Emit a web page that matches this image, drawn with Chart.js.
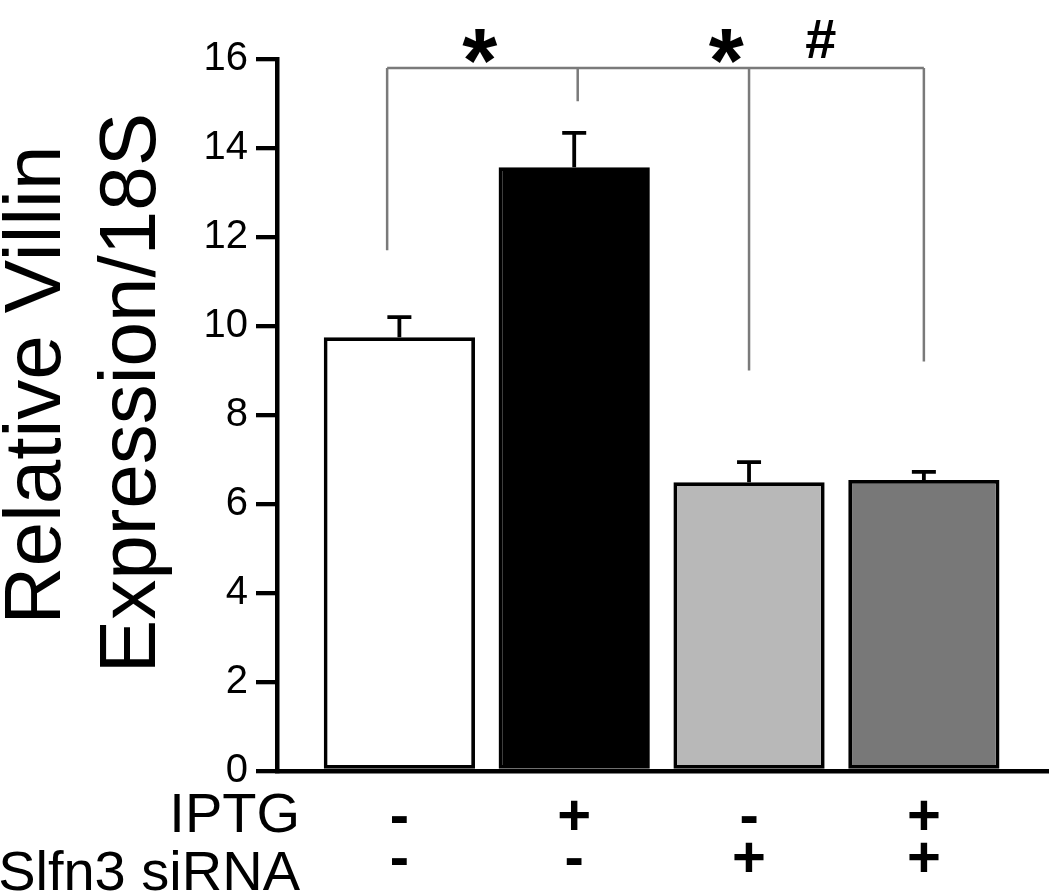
<!DOCTYPE html>
<html>
<head>
<meta charset="utf-8">
<script src="https://cdn.jsdelivr.net/npm/chart.js@4"></script>
<style>
  body { margin: 0; background: #fff; }
</style>
</head>
<body>
<canvas id="villin" width="1050" height="894" style="display:block;width:1050px;height:894px"></canvas>
<script>
  // data
  const groups = ['Control', 'IPTG', 'Slfn3 siRNA', 'IPTG + Slfn3 siRNA'];
  const iptgRow = ['-', '+', '-', '+'];
  const sirnaRow = ['-', '-', '+', '+'];
  const villinMean = [9.75, 13.57, 6.49, 6.54];
  const villinErr = [0.45, 0.77, 0.45, 0.18];
  const barColors = ['#ffffff', '#000000', '#b8b8b8', '#787878'];
  const yTitle = ['Relative Villin', 'Expression/18S'];
  const rowTitles = ['IPTG', 'Slfn3 siRNA'];

  // significance bracket (in data units)
  const bracketLevel = 15.8;
  const bracketDrops = [{ x: 0.93, to: 11.7 }, { x: 2.02, to: 15.05 }, { x: 3, to: 9.0 }, { x: 4, to: 9.2 }];
  const sigMarks = [{ text: '*', x: 1.46, y: 16.3 }, { text: '*', x: 2.87, y: 16.3 }, { text: '#', x: 3.41, y: 16.45 }];

  const FONT = "'Liberation Sans', Arial, sans-serif";

  const errorBars = {
    id: 'errorBars',
    afterDatasetsDraw(chart) {
      const { ctx, scales: { y } } = chart;
      ctx.save();
      ctx.strokeStyle = '#000';
      ctx.lineWidth = 3.8;
      chart.getDatasetMeta(0).data.forEach((bar, i) => {
        const top = y.getPixelForValue(villinMean[i] + villinErr[i]);
        ctx.beginPath();
        ctx.moveTo(bar.x, bar.y);
        ctx.lineTo(bar.x, top);
        ctx.moveTo(bar.x - 12, top);
        ctx.lineTo(bar.x + 12, top);
        ctx.stroke();
      });
      ctx.restore();
    }
  };

  const brackets = {
    id: 'brackets',
    afterDraw(chart) {
      const { ctx, scales: { x, y } } = chart;
      const yl = y.getPixelForValue(bracketLevel);
      ctx.save();
      ctx.strokeStyle = '#7a7a7a';
      ctx.lineWidth = 2.5;
      ctx.beginPath();
      ctx.moveTo(x.getPixelForValue(bracketDrops[0].x), yl);
      ctx.lineTo(x.getPixelForValue(bracketDrops[bracketDrops.length - 1].x), yl);
      bracketDrops.forEach(d => {
        const px = x.getPixelForValue(d.x);
        ctx.moveTo(px, yl);
        ctx.lineTo(px, y.getPixelForValue(d.to));
      });
      ctx.stroke();

      ctx.fillStyle = '#000';
      ctx.textAlign = 'center';
      ctx.textBaseline = 'alphabetic';
      sigMarks.forEach(m => {
        ctx.font = m.text === '*' ? `bold 90px ${FONT}` : `bold 56px ${FONT}`;
        const mt = ctx.measureText(m.text);
        const mid = (mt.actualBoundingBoxAscent - mt.actualBoundingBoxDescent) / 2;
        ctx.fillText(m.text, x.getPixelForValue(m.x), y.getPixelForValue(m.y) + mid);
      });
      ctx.restore();
    }
  };

  const textLabels = {
    id: 'textLabels',
    afterDraw(chart) {
      const { ctx } = chart;
      ctx.save();
      ctx.fillStyle = '#000';
      // rotated two-line y title
      ctx.font = `80px ${FONT}`;
      ctx.textAlign = 'center';
      ctx.textBaseline = 'alphabetic';
      [[60, 385], [155, 393]].forEach(([bx, cy], i) => {
        ctx.save();
        ctx.translate(bx, cy);
        ctx.rotate(-Math.PI / 2);
        ctx.fillText(yTitle[i], 0, 0);
        ctx.restore();
      });
      // row titles under the axis
      ctx.font = `56px ${FONT}`;
      ctx.textAlign = 'right';
      ctx.fillText(rowTitles[0], 300, 832);
      ctx.fillText(rowTitles[1], 300, 890);
      ctx.restore();
    }
  };

  new Chart(document.getElementById('villin'), {
    type: 'bar',
    data: {
      datasets: [{
        label: 'Relative Villin Expression/18S',
        data: villinMean.map((v, i) => ({ x: i + 1, y: v })),
        backgroundColor: barColors,
        borderColor: '#000',
        borderWidth: 3.8,
        borderSkipped: false,
        categoryPercentage: 1,
        barPercentage: 0.865
      }]
    },
    options: {
      responsive: false,
      animation: false,
      devicePixelRatio: 1,
      layout: { padding: { left: 0, right: 2, top: 59, bottom: 0 } },
      plugins: { legend: { display: false }, tooltip: { enabled: false } },
      scales: {
        x: {
          type: 'linear',
          offset: false,
          min: 0.3,
          max: 4.71,
          afterBuildTicks: s => { s.ticks = groups.map((g, i) => ({ value: i + 1 })); },
          afterFit: s => { s.height = 894 - 771; },
          grid: { display: false, drawTicks: false, offset: false },
          border: { display: true, color: '#000', width: 4.5 },
          ticks: {
            color: '#000',
            padding: 27,
            maxRotation: 0,
            autoSkip: false,
            font: { family: FONT, size: 58, weight: 'bold', lineHeight: 0.724 },
            callback: (value, index) => [iptgRow[index], sirnaRow[index]]
          }
        },
        y: {
          min: 0,
          max: 16,
          afterFit: s => { s.width = 277; },
          grid: { drawOnChartArea: false, drawTicks: true, tickLength: 21, color: '#000', lineWidth: 4.3 },
          border: { display: true, color: '#000', width: 4.5 },
          ticks: {
            stepSize: 2,
            color: '#000',
            padding: 8,
            font: { family: FONT, size: 40 }
          }
        }
      }
    },
    plugins: [errorBars, brackets, textLabels]
  });
</script>
</body>
</html>
